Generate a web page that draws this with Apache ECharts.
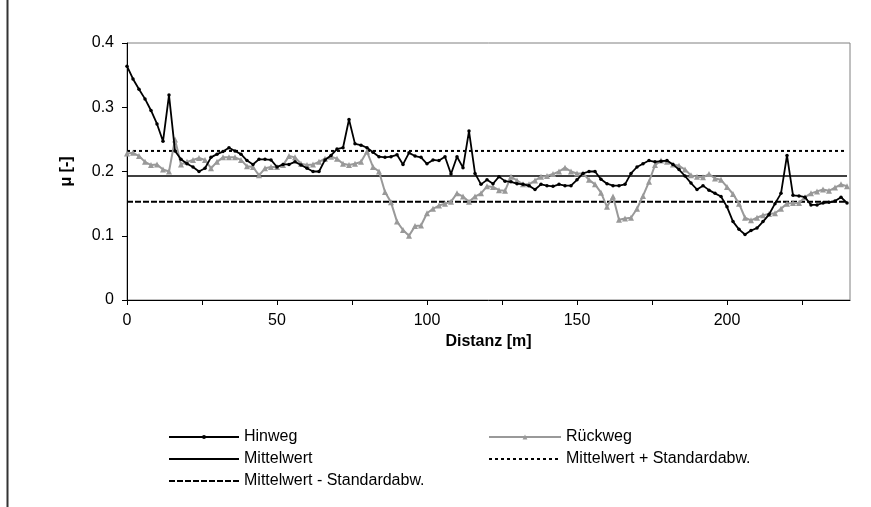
<!DOCTYPE html>
<html><head><meta charset="utf-8">
<script src="https://cdn.jsdelivr.net/npm/echarts@6/dist/echarts.min.js"></script>
<style>html,body{margin:0;padding:0;background:#fff}#c{width:871px;height:507px}</style>
</head><body><div id="c"></div>
<script>
const distance = [0,2,4,6,8,10,12,14,16,18,20,22,24,26,28,30,32,34,36,38,40,42,44,46,48,50,52,54,56,58,60,62,64,66,68,70,72,74,76,78,80,82,84,86,88,90,92,94,96,98,100,102,104,106,108,110,112,114,116,118,120,122,124,126,128,130,132,134,136,138,140,142,144,146,148,150,152,154,156,158,160,162,164,166,168,170,172,174,176,178,180,182,184,186,188,190,192,194,196,198,200,202,204,206,208,210,212,214,216,218,220,222,224,226,228,230,232,234,236,238,240];
const hinweg = [
0.364,0.344,0.328,0.313,0.295,0.274,0.247,0.319,0.232,0.219,
0.212,0.207,0.200,0.205,0.222,0.227,0.231,0.237,0.232,0.227,
0.217,0.211,0.219,0.219,0.218,0.207,0.211,0.211,0.215,0.210,
0.205,0.200,0.200,0.218,0.225,0.235,0.237,0.281,0.243,0.241,
0.237,0.230,0.223,0.222,0.223,0.226,0.211,0.229,0.224,0.222,
0.212,0.218,0.217,0.223,0.196,0.223,0.206,0.263,0.197,0.180,
0.187,0.181,0.192,0.185,0.184,0.181,0.180,0.178,0.172,0.180,
0.178,0.177,0.180,0.178,0.178,0.187,0.197,0.200,0.200,0.188,
0.181,0.178,0.178,0.180,0.197,0.207,0.212,0.217,0.215,0.216,
0.217,0.211,0.203,0.193,0.182,0.172,0.178,0.171,0.166,0.161,
0.145,0.122,0.110,0.102,0.108,0.112,0.122,0.133,0.150,0.166,
0.225,0.163,0.162,0.160,0.148,0.148,0.151,0.152,0.154,0.160,
0.151];
const rueckweg = [
0.228,0.229,0.224,0.215,0.210,0.211,0.203,0.200,0.250,0.211,
0.215,0.218,0.221,0.218,0.205,0.215,0.222,0.222,0.222,0.218,
0.208,0.207,0.194,0.205,0.207,0.207,0.210,0.224,0.222,0.212,
0.210,0.211,0.215,0.220,0.223,0.220,0.212,0.210,0.212,0.215,
0.231,0.207,0.200,0.168,0.152,0.122,0.109,0.100,0.115,0.116,
0.135,0.142,0.147,0.150,0.153,0.166,0.161,0.153,0.161,0.166,
0.177,0.176,0.171,0.170,0.192,0.186,0.180,0.180,0.186,0.192,
0.193,0.196,0.200,0.206,0.200,0.197,0.197,0.187,0.180,0.167,
0.145,0.161,0.125,0.127,0.128,0.142,0.162,0.184,0.210,0.217,
0.215,0.211,0.209,0.203,0.194,0.192,0.191,0.196,0.189,0.187,
0.176,0.165,0.150,0.128,0.124,0.128,0.132,0.134,0.135,0.142,
0.150,0.151,0.151,0.160,0.166,0.169,0.172,0.170,0.175,0.180,
0.177];
const statNames = ['Mittelwert', 'Mittelwert + Standardabw.', 'Mittelwert - Standardabw.'];
const statLevels = [0.193, 0.232, 0.153];
const statSpan = [0, 240];
const xTickValues = [0, 25, 50, 75, 100, 125, 150, 175, 200, 225];
const xLabelValues = [0, 50, 100, 150, 200];

const FF = "'Liberation Sans',Arial,sans-serif";
const chart = echarts.init(document.getElementById('c'), null, {renderer: 'canvas'});
const pairs = (ys) => distance.map((d, i) => [d, ys[i]]);
const statLine = (v) => statSpan.map(x => [x, v]);
const statStyles = [
  {color: '#000', width: 1.5, type: 'solid'},
  {color: '#000', width: 2, type: [3, 3]},
  {color: '#000', width: 2, type: [6, 2]}
];
const statSeries = statNames.map((n, i) => ({
  name: n, type: 'line', data: statLine(statLevels[i]), symbol: 'none',
  lineStyle: statStyles[i], itemStyle: {color: 'rgba(0,0,0,0)'}, z: 1, silent: true
}));
const legendText = {fontSize: 16, lineHeight: 16, color: '#000', fontFamily: FF};
const noDot = (n) => ({name: n, itemStyle: {color: 'rgba(0,0,0,0)', opacity: 0}});
chart.setOption({
  animation: false,
  graphic: [{type: 'line', shape: {x1: 7.5, y1: 0, x2: 7.5, y2: 507}, style: {stroke: '#333', lineWidth: 2}}],
  grid: {left: 127, top: 43, width: 723, height: 257, show: true, borderColor: '#808080', borderWidth: 1},
  xAxis: {
    type: 'value', min: 0, max: 241,
    axisLine: {show: true, onZero: false, lineStyle: {color: '#000', width: 1}},
    axisTick: {show: true, customValues: xTickValues, length: 5, lineStyle: {color: '#000'}},
    axisLabel: {customValues: xLabelValues, fontSize: 16, color: '#000', margin: 13, fontFamily: FF},
    splitLine: {show: false},
    name: 'Distanz [m]', nameLocation: 'middle', nameGap: 34,
    nameTextStyle: {fontWeight: 'bold', fontSize: 16, color: '#000', fontFamily: FF}
  },
  yAxis: {
    type: 'value', min: 0, max: 0.4, interval: 0.1,
    axisLine: {show: true, lineStyle: {color: '#000', width: 1}},
    axisTick: {show: true, length: 5, lineStyle: {color: '#000'}},
    axisLabel: {fontSize: 16, color: '#000', margin: 13, fontFamily: FF},
    splitLine: {show: false},
    name: 'μ [-]', nameLocation: 'middle', nameRotate: 90, nameGap: 52,
    nameTextStyle: {fontWeight: 'bold', fontSize: 16, color: '#000', fontFamily: FF}
  },
  legend: [
    {data: ['Hinweg', noDot('Mittelwert'), noDot('Mittelwert - Standardabw.')], orient: 'vertical', left: 168, top: 429,
     itemWidth: 70, itemHeight: 5, itemGap: 6, padding: 0, selectedMode: false, textStyle: legendText},
    {data: ['Rückweg', noDot('Mittelwert + Standardabw.')], orient: 'vertical', left: 488, top: 429,
     itemWidth: 72, itemHeight: 6, itemGap: 6, padding: 0, selectedMode: false, textStyle: legendText}
  ],
  series: [
    ...statSeries,
    {name: 'Rückweg', type: 'line', data: pairs(rueckweg), symbol: 'triangle', symbolSize: 6, showAllSymbol: true,
     lineStyle: {color: '#999999', width: 2}, itemStyle: {color: '#999999'}, z: 2},
    {name: 'Hinweg', type: 'line', data: pairs(hinweg), symbol: 'circle', symbolSize: 3.5, showAllSymbol: true,
     lineStyle: {color: '#000', width: 1.8}, itemStyle: {color: '#000'}, z: 3}
  ]
});
</script></body></html>
